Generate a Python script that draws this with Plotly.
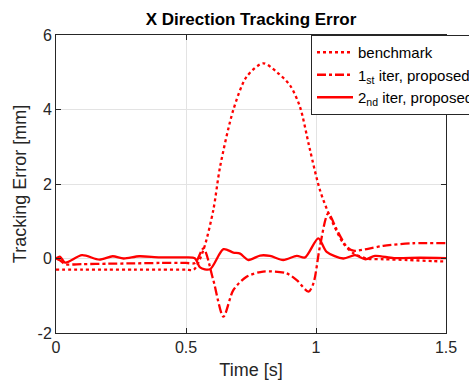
import plotly.graph_objects as go

# Benchmark (dotted)
t_bench = [0.0, 0.1, 0.2, 0.3, 0.4, 0.5, 0.53, 0.567, 0.605, 0.631, 0.682, 0.733, 0.797, 0.85, 0.9, 0.938, 0.977, 1.015, 1.054, 1.105, 1.144, 1.195, 1.26, 1.35, 1.45, 1.5]
v_bench = [-0.3, -0.3, -0.3, -0.3, -0.3, -0.3, -0.3, 0.23, 1.30, 2.46, 3.99, 4.88, 5.24, 5.0, 4.65, 4.08, 2.91, 1.84, 1.12, 0.41, 0.14, 0.0, -0.02, -0.04, -0.07, -0.08]

# 1st iteration, proposed (dash-dot)
t_iter1 = [0.0, 0.015, 0.035, 0.1, 0.2, 0.3, 0.4, 0.5, 0.535, 0.567, 0.605, 0.644, 0.682, 0.733, 0.797, 0.887, 0.926, 0.971, 0.99, 1.015, 1.047, 1.08, 1.118, 1.144, 1.2, 1.259, 1.374, 1.5]
v_iter1 = [0.0, -0.05, -0.15, -0.15, -0.14, -0.13, -0.12, -0.12, -0.12, 0.27, -0.58, -1.56, -0.85, -0.49, -0.35, -0.40, -0.58, -0.89, -0.67, 0.32, 1.21, 0.77, 0.32, 0.21, 0.26, 0.34, 0.41, 0.41]

# 2nd iteration, proposed (solid)
t_iter2 = [0.0, 0.015, 0.035, 0.1, 0.167, 0.218, 0.26, 0.32, 0.4, 0.5, 0.535, 0.554, 0.592, 0.644, 0.682, 0.708, 0.74, 0.785, 0.823, 0.874, 0.926, 0.958, 1.009, 1.041, 1.105, 1.15, 1.19, 1.227, 1.3, 1.4, 1.5]
v_iter2 = [0.0, 0.05, -0.11, 0.09, -0.03, 0.06, 0.0, 0.06, 0.03, 0.03, 0.0, -0.24, -0.29, 0.25, 0.16, 0.13, -0.04, 0.08, 0.07, -0.04, 0.07, 0.03, 0.54, 0.18, 0.0, 0.09, -0.02, 0.07, 0.01, 0.02, 0.01]

x_ticks = [0, 0.5, 1, 1.5]
x_tick_labels = ["0", "0.5", "1", "1.5"]
y_ticks = [-2, 0, 2, 4, 6]
y_tick_labels = ["-2", "0", "2", "4", "6"]

RED = "#FF0000"
FONT = "Liberation Sans, Arial"
fig = go.Figure()
fig.add_trace(go.Scatter(x=t_bench, y=v_bench, mode="lines", name="benchmark",
                         line=dict(color=RED, width=2.3, dash="dot", shape="spline", smoothing=0.8)))
fig.add_trace(go.Scatter(x=t_iter1, y=v_iter1, mode="lines", name="1<sub>st</sub> iter, proposed",
                         line=dict(color=RED, width=2.3, dash="dashdot", shape="spline", smoothing=0.8)))
fig.add_trace(go.Scatter(x=t_iter2, y=v_iter2, mode="lines", name="2<sub>nd</sub> iter, proposed",
                         line=dict(color=RED, width=2.3, dash="solid", shape="spline", smoothing=0.8)))

axis_common = dict(showgrid=True, gridcolor="#E3E3E3", gridwidth=1, zeroline=False,
                   showline=True, linecolor="#262626", linewidth=1, mirror="ticks",
                   ticks="inside", ticklen=5, tickcolor="#262626",
                   tickfont=dict(family=FONT, size=16, color="#262626"))

fig.update_layout(
    width=469, height=383,
    margin=dict(l=56, r=23, t=35, b=50, autoexpand=False),
    paper_bgcolor="white", plot_bgcolor="white",
    title=dict(text="<b>X Direction Tracking Error</b>", x=(56 + 195) / 469, xanchor="center",
               y=1 - 19 / 383, yanchor="middle",
               font=dict(family=FONT, size=17, color="black")),
    xaxis=dict(range=[0, 1.5], tickvals=x_ticks, ticktext=x_tick_labels,
               title=dict(text="Time [s]", standoff=8,
                          font=dict(family=FONT, size=18, color="#262626")),
               **axis_common),
    yaxis=dict(range=[-2, 6], tickvals=y_ticks, ticktext=y_tick_labels,
               title=dict(text="Tracking Error [mm]", standoff=6,
                          font=dict(family=FONT, size=18, color="#262626")),
               **axis_common),
    legend=dict(x=(311 - 56) / 390, y=1, xanchor="left", yanchor="top",
                bgcolor="white", bordercolor="#262626", borderwidth=1,
                font=dict(family=FONT, size=15, color="black"),
                itemwidth=36, tracegroupgap=0),
    showlegend=True,
)

fig.write_html("out.html")
